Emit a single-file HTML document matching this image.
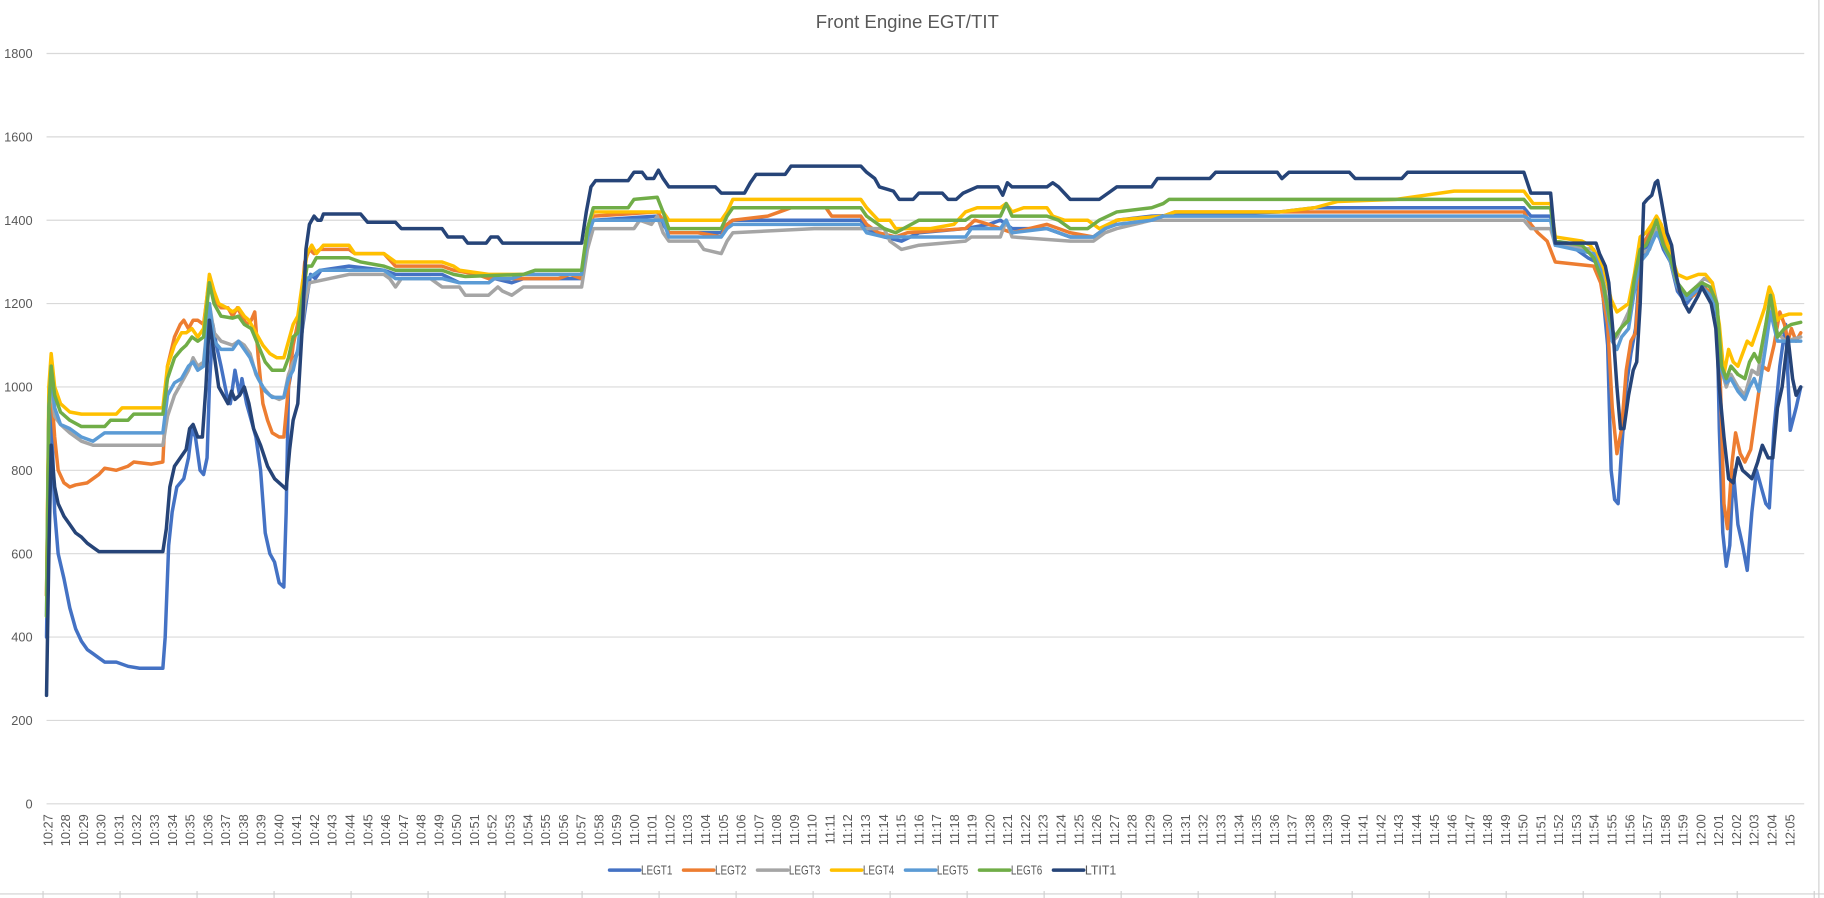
<!DOCTYPE html>
<html><head><meta charset="utf-8">
<style>html,body{margin:0;padding:0;background:#fff;}svg{display:block;}</style>
</head><body>
<svg id="c" xmlns="http://www.w3.org/2000/svg" width="1824" height="898" viewBox="0 0 1568 772" preserveAspectRatio="none" font-family="Liberation Sans, sans-serif">
<rect width="1568" height="772" fill="#fff"/>
<text x="780" y="24" text-anchor="middle" font-size="16" fill="#595959">Front Engine EGT/TIT</text>
<g id="grid"></g><g id="ax"></g><g id="series" fill="none" stroke-width="3" stroke-linejoin="round" stroke-linecap="round"></g><g id="leg"></g>
</svg>
<script>
var NS="http://www.w3.org/2000/svg",svg=document.getElementById('c');
function el(p,t,a,txt){var e=document.createElementNS(NS,t);for(var k in a)e.setAttribute(k,a[k]);if(txt!=null)e.textContent=txt;p.appendChild(e);return e;}
function Y(v){return 691-v*0.35833;}
var g=document.getElementById('grid'),ax=document.getElementById('ax');
for(var k=0;k<=9;k++){var y=Y(k*200);el(g,'line',{x1:40,x2:1551,y1:y,y2:y,stroke:'#d9d9d9','stroke-width':1});
el(ax,'text',{x:28,y:y+4,'text-anchor':'end','font-size':11,fill:'#595959'},String(k*200));}
for(var i=0;i<=98;i++){var m=27+i,h=10+Math.floor(m/60),mm=m%60;var lab=h+':'+(mm<10?'0':'')+mm;var x=41+15.28*i+4;
el(ax,'text',{transform:'translate('+x+',700) rotate(-90)','text-anchor':'end','font-size':11,fill:'#595959'},lab);}
el(g,'line',{x1:0,x2:1568,y1:768.5,y2:768.5,stroke:'#d0d0d0','stroke-width':1});
for(var t=37;t<1568;t+=66.2)el(g,'line',{x1:t,x2:t,y1:766,y2:772,stroke:'#d0d0d0','stroke-width':1});
el(g,'line',{x1:1563.6,x2:1563.6,y1:0,y2:772,stroke:'#d0d0d0','stroke-width':1});
var S=[
['LEGT1','#4472C4',[40,400,42,800,44,950,47,700,50,600,55,540,60,470,65,420,70,390,75,370,80,360,85,350,90,340,100,340,110,330,120,325,140,325,142,400,145,620,148,700,152,760,158,780,162,830,165,900,168,880,172,800,175,790,178,830,180,1000,183,1150,186,1100,190,1050,195,980,198,960,202,1040,206,980,208,1020,212,960,216,920,220,880,224,800,228,650,232,600,236,580,240,530,244,520,246,700,248,1000,252,1060,258,1100,263,1200,267,1270,271,1260,276,1280,300,1290,330,1280,340,1270,380,1270,395,1250,420,1250,425,1260,440,1250,450,1260,500,1260,505,1360,510,1400,565,1410,570,1390,575,1370,620,1370,625,1390,630,1400,740,1400,745,1380,760,1360,775,1350,790,1370,830,1380,850,1390,860,1400,865,1390,870,1380,900,1380,920,1360,940,1360,950,1380,960,1400,990,1410,1100,1420,1130,1430,1310,1430,1316,1410,1333,1410,1337,1340,1350,1340,1365,1310,1372,1300,1377,1250,1382,1100,1385,800,1388,730,1391,720,1394,850,1398,1000,1402,1080,1406,1140,1410,1300,1414,1330,1420,1360,1424,1380,1430,1330,1436,1300,1442,1230,1450,1200,1458,1230,1463,1250,1470,1220,1476,1170,1478,900,1481,650,1484,570,1487,620,1490,800,1494,670,1498,620,1502,560,1506,700,1510,800,1514,760,1518,720,1521,710,1525,900,1530,1050,1535,1150,1539,896,1544,950,1548,1000]],
['LEGT2','#ED7D31',[40,500,42,950,44,1000,47,880,50,800,55,770,60,760,65,765,75,770,85,790,90,805,100,800,110,810,115,820,130,815,140,820,144,1050,150,1120,155,1150,158,1160,162,1140,166,1160,170,1160,175,1150,180,1260,184,1210,190,1190,196,1190,200,1170,204,1190,208,1170,212,1150,216,1160,219,1180,222,1070,226,960,230,920,234,890,240,880,244,880,248,1000,252,1100,258,1180,262,1300,266,1330,270,1320,275,1330,300,1330,305,1320,330,1320,340,1290,380,1290,390,1280,410,1270,420,1260,480,1260,490,1270,500,1260,505,1370,510,1410,565,1420,570,1400,575,1370,600,1370,620,1360,625,1390,630,1400,660,1410,670,1420,680,1430,710,1430,715,1410,740,1410,745,1390,755,1370,770,1360,780,1370,830,1380,838,1400,850,1390,870,1370,900,1390,920,1370,940,1360,950,1380,960,1400,1000,1410,1010,1420,1310,1420,1316,1390,1322,1370,1330,1350,1337,1300,1370,1290,1376,1250,1382,1150,1386,950,1390,840,1394,900,1398,1040,1402,1110,1406,1130,1412,1340,1418,1370,1424,1400,1430,1350,1436,1300,1442,1240,1448,1210,1456,1220,1462,1240,1470,1230,1476,1200,1479,1000,1482,720,1485,660,1489,820,1492,890,1496,840,1500,820,1505,850,1510,950,1515,1050,1520,1040,1525,1100,1530,1180,1534,1150,1537,1110,1540,1140,1544,1110,1548,1130]],
['LEGT3','#A5A5A5',[40,500,42,950,44,1000,47,930,52,910,60,890,70,870,80,860,140,860,144,930,150,980,156,1010,162,1040,166,1070,170,1050,175,1060,180,1200,184,1130,190,1110,200,1100,205,1110,210,1100,215,1080,220,1030,226,1000,232,980,240,970,244,975,248,1030,252,1060,258,1090,262,1200,266,1250,300,1270,330,1270,335,1260,340,1240,345,1260,370,1260,380,1240,395,1240,400,1220,420,1220,428,1240,432,1230,440,1220,450,1240,500,1240,505,1330,510,1380,545,1380,550,1400,560,1390,565,1410,570,1370,575,1350,600,1350,605,1330,620,1320,625,1350,630,1370,700,1380,760,1380,765,1350,775,1330,790,1340,830,1350,835,1360,860,1360,865,1400,870,1360,920,1350,940,1350,950,1370,960,1380,990,1400,1310,1400,1316,1380,1333,1380,1337,1340,1370,1330,1376,1290,1382,1200,1386,1110,1390,1120,1395,1150,1400,1180,1405,1230,1410,1320,1418,1330,1424,1380,1430,1340,1436,1310,1442,1250,1450,1220,1458,1240,1465,1260,1472,1250,1476,1200,1480,1040,1484,1000,1488,1030,1494,1000,1500,980,1506,1040,1511,1030,1518,1150,1522,1190,1528,1130,1535,1110,1548,1120]],
['LEGT4','#FFC000',[40,500,42,1000,44,1080,47,1000,52,960,60,940,70,935,100,935,105,950,140,950,144,1050,150,1100,156,1130,160,1130,165,1140,170,1120,175,1140,180,1270,184,1230,188,1200,195,1190,200,1180,205,1190,210,1170,214,1160,220,1130,226,1100,232,1080,238,1070,244,1070,248,1110,252,1150,256,1170,260,1250,264,1320,268,1340,272,1320,278,1340,300,1340,305,1320,330,1320,340,1300,380,1300,390,1290,395,1280,420,1270,500,1270,505,1380,510,1420,570,1420,575,1400,620,1400,625,1420,630,1450,740,1450,745,1430,755,1400,765,1400,770,1380,800,1380,820,1390,830,1420,840,1430,860,1430,865,1440,870,1420,880,1430,900,1430,905,1410,915,1400,935,1400,945,1380,960,1400,1000,1410,1010,1420,1100,1420,1130,1430,1150,1445,1200,1450,1250,1470,1310,1470,1318,1440,1333,1440,1337,1360,1360,1350,1367,1340,1372,1320,1380,1270,1385,1210,1390,1180,1395,1190,1400,1200,1405,1270,1410,1360,1415,1370,1420,1390,1424,1410,1428,1390,1435,1330,1442,1270,1450,1260,1460,1270,1466,1270,1472,1250,1478,1150,1482,1030,1486,1090,1490,1060,1494,1050,1498,1080,1502,1110,1506,1100,1511,1140,1517,1190,1521,1240,1524,1220,1528,1160,1532,1170,1538,1175,1548,1175]],
['LEGT5','#5B9BD5',[40,450,42,950,44,1040,47,950,52,910,60,900,70,880,80,870,85,880,90,890,140,890,144,980,150,1010,156,1020,162,1050,166,1060,170,1040,175,1050,180,1200,184,1110,190,1090,200,1090,205,1110,210,1090,215,1070,222,1020,228,990,234,975,244,975,248,1020,252,1040,256,1090,260,1200,264,1260,270,1270,275,1280,330,1280,340,1260,380,1260,395,1250,420,1250,425,1260,440,1260,450,1270,500,1270,505,1360,510,1400,570,1400,575,1360,620,1360,625,1380,630,1390,740,1390,745,1370,760,1360,830,1360,835,1380,860,1380,865,1400,870,1370,900,1380,920,1360,940,1360,950,1380,960,1390,990,1400,1000,1410,1310,1410,1316,1400,1333,1400,1337,1340,1370,1320,1376,1280,1382,1180,1386,1110,1390,1090,1394,1120,1400,1140,1405,1230,1410,1300,1416,1320,1424,1370,1430,1340,1436,1300,1442,1240,1450,1210,1458,1230,1463,1240,1470,1220,1476,1180,1480,1040,1484,1010,1488,1020,1494,990,1500,970,1504,1000,1508,1020,1512,990,1518,1100,1522,1180,1528,1110,1534,1110,1548,1110]],
['LEGT6','#70AD47',[40,450,42,950,44,1050,47,980,52,940,60,920,70,905,90,905,95,920,110,920,115,935,140,935,144,1020,150,1070,156,1090,160,1100,165,1120,170,1110,175,1120,180,1250,184,1200,190,1170,200,1165,205,1170,210,1150,216,1140,222,1100,228,1060,234,1040,244,1040,248,1070,252,1120,256,1130,260,1220,264,1290,268,1290,272,1310,300,1310,310,1300,330,1290,340,1280,380,1280,390,1270,400,1265,450,1270,460,1280,500,1280,505,1380,510,1430,540,1430,545,1450,565,1455,570,1420,575,1380,620,1380,625,1410,630,1430,740,1430,745,1410,760,1380,770,1370,790,1400,830,1400,835,1410,860,1410,865,1440,870,1410,900,1410,910,1400,920,1380,935,1380,945,1400,960,1420,990,1430,1000,1440,1005,1450,1310,1450,1316,1430,1333,1430,1337,1350,1360,1340,1370,1310,1378,1250,1384,1160,1388,1120,1393,1140,1400,1160,1405,1260,1410,1330,1415,1340,1420,1370,1424,1400,1430,1340,1436,1310,1442,1250,1450,1220,1458,1240,1463,1250,1470,1240,1476,1200,1480,1050,1484,1020,1488,1050,1494,1030,1500,1020,1504,1060,1508,1080,1512,1060,1518,1150,1522,1220,1528,1120,1534,1140,1540,1150,1548,1155]],
['LTIT1','#264478',[40,260,42,600,44,860,47,760,50,720,55,690,60,670,65,650,70,640,75,625,80,615,85,605,140,605,143,660,146,760,150,810,155,830,160,850,163,900,166,910,170,880,174,880,177,1000,180,1160,184,1080,188,1000,192,980,196,960,199,990,202,970,206,980,210,1000,214,960,218,900,224,860,230,810,236,780,242,765,246,755,249,850,252,920,256,960,260,1150,263,1330,266,1390,270,1410,273,1400,276,1400,278,1415,310,1415,316,1395,340,1395,345,1380,380,1380,385,1360,398,1360,402,1345,418,1345,422,1360,428,1360,432,1345,500,1345,504,1420,508,1480,512,1495,540,1495,545,1515,552,1515,556,1500,562,1500,566,1520,570,1500,575,1480,615,1480,620,1465,640,1465,645,1490,650,1510,675,1510,680,1530,740,1530,745,1515,752,1500,756,1480,768,1470,773,1450,785,1450,790,1465,810,1465,815,1450,822,1450,828,1465,840,1480,858,1480,862,1460,866,1490,870,1480,900,1480,905,1490,910,1480,920,1450,945,1450,955,1470,960,1480,990,1480,995,1500,1040,1500,1045,1515,1098,1515,1102,1500,1108,1515,1160,1515,1165,1500,1205,1500,1210,1515,1310,1515,1316,1465,1333,1465,1337,1345,1372,1345,1375,1320,1380,1290,1383,1250,1387,1120,1390,1000,1393,900,1396,900,1400,980,1404,1040,1407,1060,1410,1200,1413,1440,1416,1450,1420,1460,1423,1490,1425,1495,1428,1450,1433,1370,1437,1340,1440,1280,1444,1230,1448,1200,1452,1180,1456,1200,1460,1220,1463,1240,1467,1220,1471,1200,1475,1140,1478,1000,1482,880,1486,780,1490,770,1494,830,1498,800,1502,790,1506,780,1511,820,1515,860,1520,830,1524,830,1528,950,1532,1000,1537,1120,1541,1020,1544,980,1548,1000]]
];
var sg=document.getElementById('series'),lg=document.getElementById('leg');
S.forEach(function(s,idx){var d=s[2],p=[];for(var i=0;i<d.length;i+=2)p.push(d[i]+','+Y(d[i+1]).toFixed(1));
el(sg,'polyline',{points:p.join(' '),stroke:s[1]});
var lx=524+idx*63.6;el(lg,'line',{x1:lx,x2:lx+26,y1:748,y2:748,stroke:s[1],'stroke-width':3,'stroke-linecap':'round'});
el(lg,'text',{x:lx+27,y:752,'font-size':11,fill:'#595959',textLength:27,lengthAdjust:'spacingAndGlyphs'},s[0]);});
</script>
</body></html>
